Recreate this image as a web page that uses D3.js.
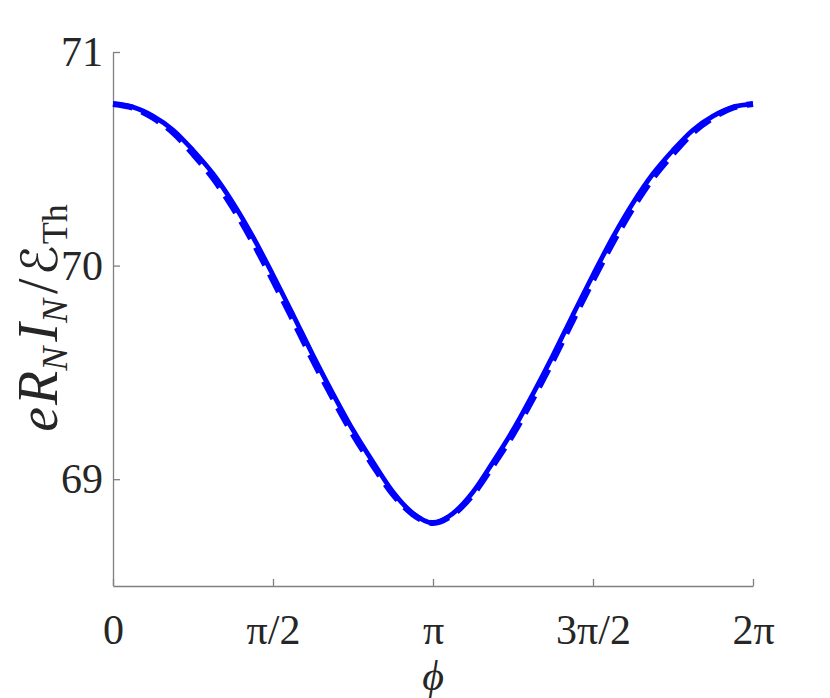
<!DOCTYPE html>
<html>
<head>
<meta charset="utf-8">
<script src="https://cdn.jsdelivr.net/npm/d3@7"></script>
<style>
  html, body { margin: 0; padding: 0; background: #fff; }
  svg { display: block; }
</style>
</head>
<body>
<svg id="chart" width="830" height="698"></svg>
<script>
// phase values phi = k*pi/16, k = 0..32
const phiSteps = d3.range(0, 33);
const solidValues = [70.757, 70.742, 70.700, 70.635, 70.540, 70.430, 70.293, 70.134, 69.956,
                     69.770, 69.580, 69.400, 69.230, 69.080, 68.940, 68.840, 68.795,
                     68.840, 68.940, 69.080, 69.230, 69.400, 69.580, 69.770, 69.956,
                     70.134, 70.293, 70.430, 70.540, 70.635, 70.700, 70.742, 70.757];
const dashedValues = [70.757, 70.739, 70.692, 70.623, 70.523, 70.410, 70.270, 70.109, 69.931,
                      69.745, 69.556, 69.378, 69.210, 69.064, 68.929, 68.835, 68.795,
                      68.835, 68.929, 69.064, 69.210, 69.378, 69.556, 69.745, 69.931,
                      70.109, 70.270, 70.410, 70.523, 70.623, 70.692, 70.739, 70.757];
const xTickValues = [0, Math.PI / 2, Math.PI, 3 * Math.PI / 2, 2 * Math.PI];
const xTickLabels = ["0", "π/2", "π", "3π/2", "2π"];
const yTickValues = [69, 70, 71];

const svg = d3.select("#chart");
const x = d3.scaleLinear().domain([0, 2 * Math.PI]).range([113, 753]);
const y = d3.scaleLinear().domain([68.5, 71]).range([586, 52]);

const axisColor = "#808080";
const textColor = "#262626";
const fontFam = "'Liberation Serif', 'Times New Roman', serif";

const xAxis = d3.axisBottom(x).tickValues(xTickValues)
  .tickFormat((d, i) => xTickLabels[i]).tickSizeInner(-7).tickSizeOuter(0).tickPadding(28);
const yAxis = d3.axisLeft(y).tickValues(yTickValues)
  .tickFormat(d3.format("d")).tickSizeInner(-7).tickSizeOuter(0).tickPadding(10);

const gx = svg.append("g").attr("transform", "translate(0,586)").call(xAxis);
const gy = svg.append("g").attr("transform", "translate(113,0)").call(yAxis);
[gx, gy].forEach(g => {
  g.select(".domain").attr("stroke", axisColor).attr("stroke-width", 1.3);
  g.selectAll(".tick line").attr("stroke", axisColor).attr("stroke-width", 1.3);
  g.selectAll(".tick text").attr("fill", textColor)
    .style("font-family", fontFam).style("font-size", "42px");
});

const pts = (vals) => phiSteps.map((k, i) => [k * Math.PI / 16, vals[i]]);
const line = d3.line().x(d => x(d[0])).y(d => y(d[1])).curve(d3.curveMonotoneX);

svg.append("path").datum(pts(dashedValues))
  .attr("d", line).attr("fill", "none").attr("stroke", "#0000ff")
  .attr("stroke-width", 6).attr("stroke-dasharray", "20,10");
svg.append("path").datum(pts(solidValues))
  .attr("d", line).attr("fill", "none").attr("stroke", "#0000ff")
  .attr("stroke-width", 4.8);

// x label
svg.append("text").attr("x", 433).attr("y", 690).attr("text-anchor", "middle")
  .style("font-family", fontFam).style("font-style", "italic").style("font-size", "42px")
  .attr("fill", textColor).text("ϕ");

// y label
const yl = svg.append("text").attr("transform", "translate(57,318) rotate(-90)")
  .attr("text-anchor", "middle").style("font-family", fontFam).style("font-size", "56px")
  .attr("fill", textColor);
yl.append("tspan").style("font-style", "italic").text("e");
yl.append("tspan").style("font-style", "italic").attr("dx", 2).text("R");
yl.append("tspan").style("font-style", "italic").style("font-size", "36px").attr("dy", 10).text("N");
yl.append("tspan").style("font-style", "italic").attr("dy", -10).attr("dx", 5).text("I");
yl.append("tspan").style("font-style", "italic").style("font-size", "36px").attr("dy", 10).text("N");
yl.append("tspan").attr("dy", -10).attr("dx", 5).text("/");
yl.append("tspan").style("font-family", "'DejaVu Sans', sans-serif").style("font-size", "50px")
  .attr("dx", 3).text("ℰ");
yl.append("tspan").style("font-size", "36px").attr("dy", 10).attr("dx", 1).text("Th");
</script>
</body>
</html>
